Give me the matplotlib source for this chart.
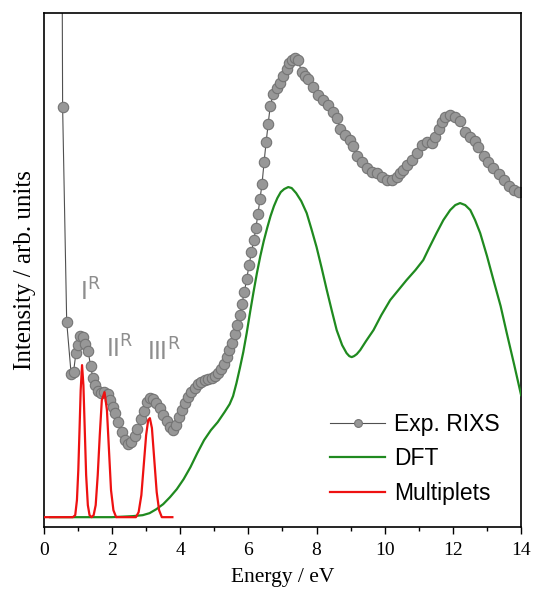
import numpy as np
import matplotlib
matplotlib.use("Agg")
import matplotlib.pyplot as plt
from matplotlib.ticker import MultipleLocator

# Experimental RIXS (energy in eV, intensity in arb. units)
exp_e = [0.53, 0.55, 0.67, 0.80, 0.87, 0.94, 1.00, 1.06, 1.15, 1.22, 1.30, 1.37, 1.44, 1.50,
         1.59, 1.68, 1.77, 1.87, 1.95, 2.03, 2.10, 2.18, 2.28, 2.38, 2.48, 2.57, 2.66, 2.74,
         2.84, 2.93, 3.03, 3.12, 3.21, 3.30, 3.40, 3.50, 3.60, 3.70, 3.80, 3.88, 3.97, 4.06,
         4.15, 4.24, 4.33, 4.42, 4.52, 4.62, 4.72, 4.82, 4.92, 5.02, 5.12, 5.20, 5.28, 5.36,
         5.44, 5.52, 5.60, 5.67, 5.74, 5.81, 5.88, 5.95, 6.02, 6.09, 6.16, 6.22, 6.28, 6.34,
         6.40, 6.46, 6.52, 6.58, 6.64, 6.73, 6.83, 6.93, 7.02, 7.12, 7.20, 7.28, 7.37, 7.46,
         7.56, 7.66, 7.76, 7.90, 8.05, 8.20, 8.34, 8.49, 8.59, 8.69, 8.83, 8.98, 9.08, 9.18,
         9.32, 9.47, 9.62, 9.76, 9.91, 10.06, 10.20, 10.35, 10.45, 10.54, 10.64, 10.79, 10.94,
         11.09, 11.23, 11.38, 11.48, 11.58, 11.68, 11.77, 11.92, 12.07, 12.21, 12.36, 12.51,
         12.66, 12.75, 12.90, 13.04, 13.19, 13.34, 13.49, 13.64, 13.79, 13.93]
exp_i = [620, 420, 205, 153, 155, 174, 182, 191, 190, 183, 176, 161, 149, 142,
         136, 134, 135, 133, 127, 120, 114, 105, 95, 87, 83, 85, 91, 98,
         108, 116, 125, 129, 128, 124, 119, 112, 106, 100, 97, 102, 110, 117,
         124, 130, 135, 139, 143, 145, 147, 148, 149, 151, 154, 158, 163, 170,
         177, 184, 193, 202, 212, 223, 235, 248, 262, 275, 287, 299, 313, 328,
         343, 365, 385, 403, 421, 433, 439, 444, 451, 458, 464, 467, 469, 467,
         455, 451, 448, 440, 432, 427, 422, 415, 409, 398, 392, 387, 381, 371,
         365, 359, 355, 354, 350, 347, 347, 350, 354, 357, 362, 367, 374,
         382, 385, 384, 390, 398, 405, 410, 412, 410, 406, 395, 390,
         386, 380, 371, 365, 359, 353, 347, 341, 337, 335]

# DFT
dft_e = [0.18, 2.0, 2.6, 2.9, 3.1, 3.3, 3.5, 3.7, 3.9, 4.1, 4.3, 4.5, 4.7, 4.9, 5.1, 5.3,
         5.45, 5.55, 5.65, 5.75, 5.85, 5.95, 6.05, 6.15, 6.25, 6.35, 6.45, 6.55, 6.65, 6.75,
         6.85, 6.95, 7.05, 7.17, 7.27, 7.4, 7.55, 7.71, 7.85, 8.0, 8.15, 8.30, 8.45, 8.59,
         8.75, 8.88, 8.96, 9.03, 9.10, 9.18, 9.28, 9.45, 9.67, 9.9, 10.16, 10.4, 10.64, 10.9,
         11.13, 11.3, 11.52, 11.72, 11.92, 12.07, 12.21, 12.36, 12.51, 12.65, 12.80, 13.0,
         13.19, 13.4, 13.58, 13.8, 14.0]
dft_i = [10, 10, 11, 12, 14, 18, 23, 30, 38, 48, 60, 74, 87, 97, 105, 115,
         123, 131, 144, 159, 175, 194, 215, 235, 254, 271, 286, 299, 311, 321,
         329, 335, 338, 340, 339, 334, 326, 314, 298, 280, 259, 237, 216, 197,
         182, 174, 171, 170, 171, 173, 177, 186, 197, 212, 227, 237, 247, 257,
         267, 279, 294, 307, 317, 322, 324, 322, 317, 307, 294, 271,
         247, 221, 194, 162, 132]

# Multiplets
mult_e = [0.00, 0.85, 0.92, 0.97, 1.01, 1.05, 1.08, 1.12, 1.16, 1.20, 1.24, 1.29, 1.34,
          1.40, 1.46, 1.52, 1.58, 1.64, 1.70, 1.78, 1.85, 1.91, 1.97, 2.04, 2.12, 2.70,
          2.78, 2.86, 2.93, 3.00, 3.06, 3.11, 3.17, 3.24, 3.31, 3.38, 3.46, 3.77]
mult_i = [10, 10, 12, 27, 57, 102, 137, 162, 142, 97, 52, 22, 12,
          10, 12, 22, 52, 92, 127, 135, 117, 77, 37, 17, 10, 10,
          15, 32, 62, 92, 107, 109, 99, 67, 35, 17, 10, 10]

labels = ["I$^{\\rm R}$", "II$^{\\rm R}$", "III$^{\\rm R}$"]
label_e = [1.05, 1.83, 3.02]
label_i = [226, 170, 167]

fig = plt.figure(figsize=(5.35, 5.91), dpi=100)
ax = fig.add_axes([0.082, 0.108, 0.892, 0.870])

ax.plot(exp_e, exp_i, color="#505050", lw=0.8, marker="o", ms=7.5,
        mfc="#979797", mec="#747474", mew=0.8, label="Exp. RIXS", zorder=2)
ax.plot(dft_e, dft_i, color="#1f8a1f", lw=1.6, label="DFT", zorder=3)
ax.plot(mult_e, mult_i, color="#ee1111", lw=1.6, label="Multiplets", zorder=4)

for t, x, y in zip(labels, label_e, label_i):
    ax.text(x, y, t, color="#8e8e8e", fontsize=18, family="Liberation Sans",
            ha="left", va="baseline")

ax.set_xlim(0, 14)
ax.set_ylim(0, 514)
ax.xaxis.set_major_locator(MultipleLocator(2))
ax.xaxis.set_minor_locator(MultipleLocator(1))
ax.tick_params(axis="x", which="major", direction="out", length=5, width=1,
               labelsize=14, pad=6)
ax.tick_params(axis="x", which="minor", direction="out", length=3, width=1)
ax.set_yticks([])
for lab in ax.get_xticklabels():
    lab.set_family("Liberation Serif")
for s in ax.spines.values():
    s.set_linewidth(1.2)

ax.set_xlabel("Energy / eV", family="Liberation Serif", fontsize=15.5, labelpad=6)
ax.set_ylabel("Intensity / arb. units", family="Liberation Serif", fontsize=18, labelpad=6)

leg = ax.legend(loc="upper left", bbox_to_anchor=(0.60, 0.222), frameon=False,
                prop={"family": "Liberation Sans", "size": 16.5},
                handlelength=2.4, handletextpad=0.4, labelspacing=0.5,
                borderpad=0, borderaxespad=0, markerscale=0.75)

fig.savefig("out.png", dpi=100)
